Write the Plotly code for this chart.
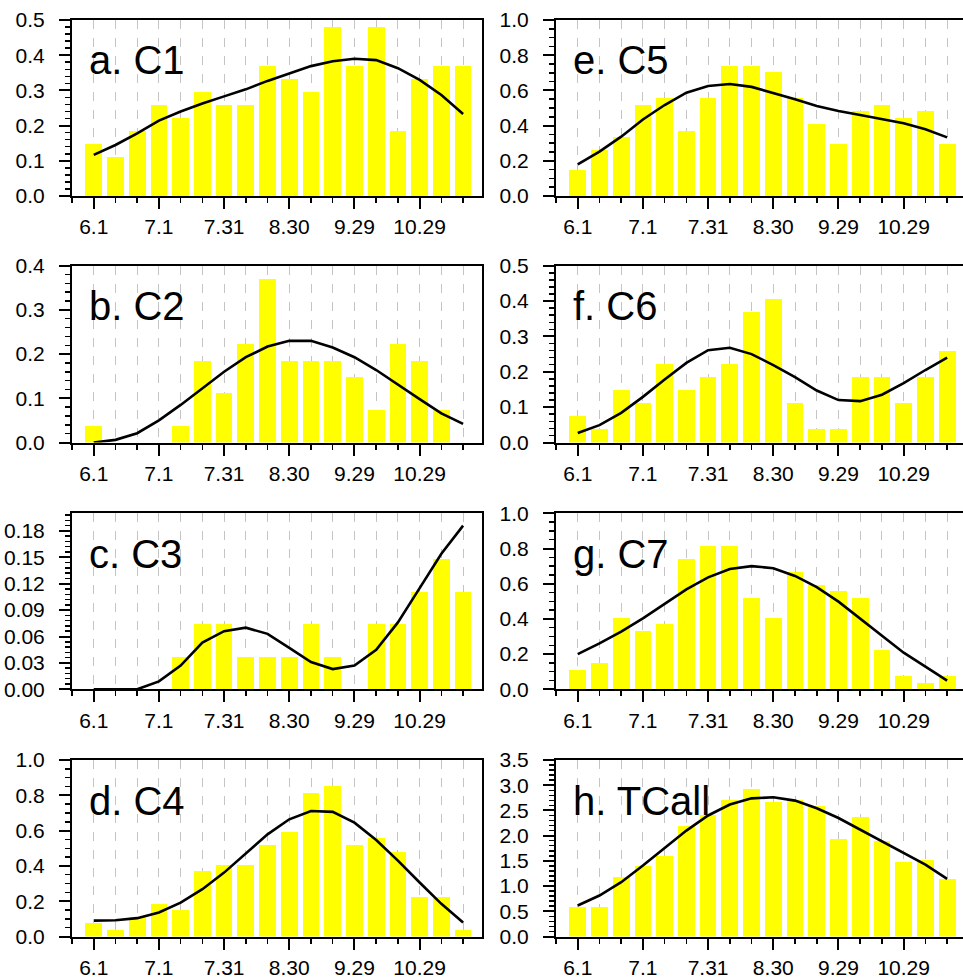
import plotly.graph_objects as go

# ---------------- data ----------------
dates = ["6.1", "6.11", "6.21", "7.1", "7.11", "7.21", "7.31", "8.10", "8.20",
         "8.30", "9.9", "9.19", "9.29", "10.9", "10.19", "10.29", "11.8", "11.18"]
major_labels = ["6.1", "7.1", "7.31", "8.30", "9.29", "10.29"]

panel_titles = ["a. C1", "b. C2", "c. C3", "d. C4", "e. C5", "f. C6", "g. C7", "h. TCall"]

c1_bar = [0.148, 0.111, 0.185, 0.259, 0.222, 0.296, 0.259, 0.259, 0.370, 0.333, 0.296, 0.481, 0.370, 0.481, 0.185, 0.333, 0.370, 0.370]
c1_fit = [0.117, 0.145, 0.178, 0.214, 0.240, 0.263, 0.283, 0.303, 0.327, 0.348, 0.369, 0.383, 0.390, 0.386, 0.363, 0.330, 0.287, 0.233]

c2_bar = [0.037, 0, 0, 0, 0.037, 0.185, 0.111, 0.222, 0.370, 0.185, 0.185, 0.185, 0.148, 0.074, 0.222, 0.185, 0.074, 0]
c2_fit = [0.0, 0.006, 0.021, 0.050, 0.085, 0.123, 0.160, 0.193, 0.217, 0.230, 0.230, 0.215, 0.193, 0.164, 0.130, 0.098, 0.066, 0.042]

c3_bar = [0, 0, 0, 0, 0.037, 0.074, 0.074, 0.037, 0.037, 0.037, 0.074, 0.037, 0, 0.074, 0.074, 0.111, 0.148, 0.111]
c3_fit = [0, 0, 0, 0.009, 0.027, 0.053, 0.066, 0.070, 0.063, 0.047, 0.031, 0.023, 0.027, 0.045, 0.076, 0.115, 0.154, 0.186]

c4_bar = [0.074, 0.037, 0.111, 0.185, 0.148, 0.370, 0.407, 0.407, 0.519, 0.593, 0.815, 0.852, 0.519, 0.556, 0.481, 0.222, 0.222, 0.037]
c4_fit = [0.090, 0.092, 0.104, 0.136, 0.192, 0.268, 0.362, 0.468, 0.579, 0.664, 0.711, 0.706, 0.645, 0.547, 0.430, 0.306, 0.185, 0.079]

c5_bar = [0.148, 0.259, 0.333, 0.519, 0.556, 0.370, 0.556, 0.741, 0.741, 0.704, 0.556, 0.407, 0.296, 0.481, 0.519, 0.444, 0.481, 0.296]
c5_fit = [0.180, 0.252, 0.337, 0.435, 0.517, 0.587, 0.625, 0.636, 0.620, 0.587, 0.550, 0.511, 0.483, 0.460, 0.438, 0.413, 0.379, 0.333]

c6_bar = [0.074, 0.037, 0.148, 0.111, 0.222, 0.148, 0.185, 0.222, 0.370, 0.407, 0.111, 0.037, 0.037, 0.185, 0.185, 0.111, 0.185, 0.259]
c6_fit = [0.027, 0.049, 0.084, 0.129, 0.178, 0.225, 0.261, 0.268, 0.250, 0.219, 0.185, 0.147, 0.120, 0.117, 0.135, 0.168, 0.205, 0.240]

c7_bar = [0.111, 0.148, 0.407, 0.333, 0.370, 0.741, 0.815, 0.815, 0.519, 0.407, 0.667, 0.593, 0.556, 0.519, 0.222, 0.074, 0.037, 0.074]
c7_fit = [0.200, 0.261, 0.328, 0.403, 0.485, 0.568, 0.636, 0.684, 0.700, 0.688, 0.644, 0.580, 0.498, 0.403, 0.303, 0.208, 0.129, 0.049]

tcall_bar = [0.593, 0.593, 1.185, 1.407, 1.593, 2.185, 2.407, 2.704, 2.926, 2.667, 2.704, 2.593, 1.926, 2.370, 1.889, 1.481, 1.519, 1.148]
tcall_fit = [0.614, 0.812, 1.077, 1.407, 1.757, 2.100, 2.400, 2.616, 2.740, 2.760, 2.695, 2.543, 2.350, 2.120, 1.882, 1.651, 1.427, 1.143]

y_max = [0.5, 0.4, 0.2, 1.0, 1.0, 0.5, 1.0, 3.5]
y_major = [0.1, 0.1, 0.03, 0.2, 0.2, 0.1, 0.2, 0.5]
y_minor = [0.02, 0.02, 0.006, 0.05, 0.05, 0.02, 0.05, 0.1]

bars = [c1_bar, c2_bar, c3_bar, c4_bar, c5_bar, c6_bar, c7_bar, tcall_bar]
fits = [c1_fit, c2_fit, c3_fit, c4_fit, c5_fit, c6_fit, c7_fit, tcall_fit]

# ---------------- layout geometry ----------------
W, H = 963, 978
rows_px = [(20, 196), (265.7, 442.5), (513.3, 689.3), (760, 936.5)]
cols_px = [(72, 482, 17.87), (556, 963, 17.73)]

FONT = "Liberation Sans, Arial, Helvetica, sans-serif"
x_idx = list(range(len(dates)))
major_idx = [dates.index(m) for m in major_labels]

fig = go.Figure()
layout = dict(width=W, height=H,
              margin=dict(l=0, r=0, t=0, b=0, pad=0, autoexpand=False),
              paper_bgcolor="white", plot_bgcolor="white", showlegend=False,
              bargap=0, annotations=[])

for i in range(8):
    n = i + 1
    col = 0 if i < 4 else 1
    row = i % 4
    xs = "x" if n == 1 else f"x{n}"
    ys = "y" if n == 1 else f"y{n}"
    fig.add_trace(go.Bar(x=x_idx, y=bars[i], width=0.77,
                         marker=dict(color="#FFFF00", line=dict(width=0)),
                         xaxis=xs, yaxis=ys))
    fig.add_trace(go.Scatter(x=x_idx, y=fits[i], mode="lines",
                             line=dict(color="black", width=2.6),
                             xaxis=xs, yaxis=ys, cliponaxis=False))
    x0, x1, xr = cols_px[col]
    t0, t1 = rows_px[row]
    layout[f"xaxis{n}"] = dict(
        domain=[x0 / W, min(1.0, x1 / W)], anchor=ys, range=[-1, xr],
        tickmode="array", tickvals=major_idx, ticktext=major_labels,
        ticks="outside", ticklen=11, tickwidth=2, tickcolor="black",
        ticklabelstandoff=0,
        tickfont=dict(family=FONT, size=21, color="black"),
        showgrid=True, griddash="dash", gridcolor="#c4c4c4", gridwidth=1,
        minor=dict(tick0=0, dtick=1, ticks="outside", ticklen=5, tickwidth=1.5,
                   tickcolor="black", showgrid=True, griddash="dash",
                   gridcolor="#c4c4c4", gridwidth=1),
        showline=True, linewidth=2, linecolor="black", mirror=True,
        zeroline=False, fixedrange=True)
    layout[f"yaxis{n}"] = dict(
        domain=[1 - t1 / H, 1 - t0 / H], anchor=xs, range=[0, y_max[i]],
        tick0=0, dtick=y_major[i], tickformat=".2f" if y_major[i] < 0.1 else ".1f",
        ticks="outside", ticklen=11, tickwidth=2, tickcolor="black",
        ticklabelstandoff=10,
        tickfont=dict(family=FONT, size=21, color="black"),
        minor=dict(tick0=0, dtick=y_minor[i], ticks="outside", ticklen=5,
                   tickwidth=1.5, tickcolor="black", showgrid=False),
        showgrid=False, showline=True, linewidth=2, linecolor="black",
        mirror=(col == 0), zeroline=False, fixedrange=True)
    layout["annotations"].append(dict(
        text=panel_titles[i], xref=f"{xs} domain", yref=f"{ys} domain",
        x=0.036, y=0.77, xanchor="left", yanchor="middle", showarrow=False,
        font=dict(family=FONT, size=40, color="black")))

fig.update_layout(**layout)
fig.write_html("out.html",
               config={"displayModeBar": False, "staticPlot": True},
               post_script="document.body.style.margin='0';document.body.style.overflow='hidden';")
